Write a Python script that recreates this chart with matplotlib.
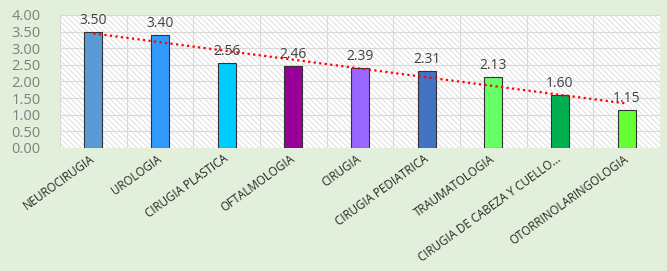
import matplotlib.pyplot as plt
from matplotlib.patches import Rectangle
import numpy as np

servicios = ["NEUROCIRUGIA", "UROLOGIA", "CIRUGIA PLASTICA", "OFTALMOLOGIA", "CIRUGIA",
             "CIRUGIA PEDIATRICA", "TRAUMATOLOGIA", "CIRUGIA DE CABEZA Y CUELLO...",
             "OTORRINOLARINGOLOGIA"]
valores = [3.50, 3.40, 2.56, 2.46, 2.39, 2.31, 2.13, 1.60, 1.15]
colores = ["#5B9BD5", "#3399FF", "#00CCFF", "#990099", "#9966FF",
           "#4472C4", "#66FF66", "#00B050", "#66FF33"]
yticks = [0, 0.5, 1.0, 1.5, 2.0, 2.5, 3.0, 3.5, 4.0]

plt.rcParams['font.family'] = ['Open Sans', 'DejaVu Sans']
plt.rcParams['hatch.linewidth'] = 0.6

fig = plt.figure(figsize=(6.67, 2.71), dpi=100)
fig.patch.set_facecolor("#E2EFDA")
ax = fig.add_axes([0.09, 0.454, 0.8995, 0.491])
ax.set_facecolor("white")

# hatched plot area
ax.add_patch(Rectangle((0, 0), 1, 1, transform=ax.transAxes, facecolor="white",
                       edgecolor="#D9D9D9", hatch="\\\\\\\\\\\\", lw=0, zorder=0))

x = np.arange(1, len(valores) + 1)
ax.bar(x, valores, width=0.27, color=colores, edgecolor="#333333", linewidth=0.8, zorder=3)

for xi, v in zip(x, valores):
    ax.text(xi, v + 0.12, f"{v:.2f}", ha="center", va="bottom", fontsize=10,
            color="#404040", zorder=5)

# linear trendline
m, b = np.polyfit(x, valores, 1)
ax.plot(x, m * x + b, color="#FF0000", linestyle=(0, (1, 1.5)), linewidth=1.6, zorder=4)

ax.set_xlim(0.5, len(valores) + 0.5)
ax.set_ylim(0, 4)
ax.set_yticks(yticks)
ax.set_yticklabels([f"{t:.2f}" for t in yticks], fontsize=10.5, color="#7F7F7F")
ax.set_xticks(x)
ax.set_xticklabels(servicios, rotation=36, ha="right", va="center", rotation_mode="anchor",
                   fontsize=8.3, color="#262626")

# gridlines at category boundaries and value ticks
for xb in np.arange(0.5, len(valores) + 1, 1):
    ax.axvline(xb, color="#D9D9D9", linewidth=0.8, zorder=1)
for t in yticks:
    ax.axhline(t, color="#D9D9D9", linewidth=0.8, zorder=1)

ax.tick_params(axis="both", length=0)
ax.tick_params(axis="y", pad=14)
ax.tick_params(axis="x", pad=7)
for s in ax.spines.values():
    s.set_visible(False)

fig.savefig("out.png", dpi=100, facecolor=fig.get_facecolor())
